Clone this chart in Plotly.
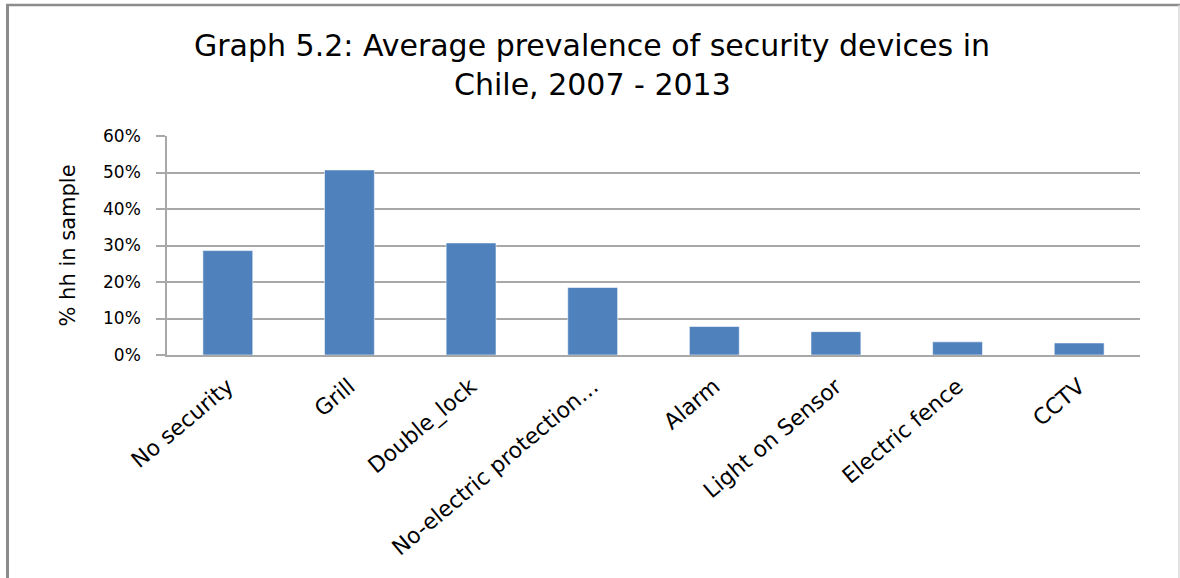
import plotly.graph_objects as go

# Average share of households with each security device, Chile 2007-2013
categories = [
    "No security", "Grill", "Double_lock", "No-electric protection…",
    "Alarm", "Light on Sensor", "Electric fence", "CCTV",
]
shares = [0.286, 0.507, 0.307, 0.185, 0.078, 0.064, 0.036, 0.033]
y_ticks = [0, 0.1, 0.2, 0.3, 0.4, 0.5, 0.6]
y_tick_labels = ["0%", "10%", "20%", "30%", "40%", "50%", "60%"]
title_lines = [
    "Graph 5.2: Average prevalence of security devices in",
    "Chile, 2007 - 2013",
]

W, H = 1180, 578
ML, MR, MT, MB = 167, 40, 136, 223
PW, PH = W - ML - MR, H - MT - MB


def px_x(px):
    return (px - ML) / PW


def px_y(py):
    return (H - MB - py) / PH


FONT = "DejaVu Sans, Verdana, sans-serif"
GRID = "#a8a8a8"

fig = go.Figure(
    go.Bar(
        x=categories,
        y=shares,
        width=0.41,
        marker=dict(color="#4f81bd", line=dict(color="rgba(255,255,255,0.55)", width=1)),
        hoverinfo="x+y",
    )
)

# two-line chart heading, centred over the whole frame
title_annotations = [
    dict(
        text=line,
        xref="paper", yref="paper",
        x=px_x(592), y=px_y(yc),
        xanchor="center", yanchor="middle",
        showarrow=False,
        font=dict(family=FONT, size=30, color="#000000"),
    )
    for line, yc in zip(title_lines, [46, 84])
]

fig.update_layout(
    width=W,
    height=H,
    margin=dict(l=ML, r=MR, t=MT, b=MB, pad=0, autoexpand=False),
    paper_bgcolor="white",
    plot_bgcolor="white",
    showlegend=False,
    bargap=0.59,
    font=dict(family=FONT, color="#000000"),
    annotations=title_annotations,
    xaxis=dict(
        automargin=False,
        showgrid=False,
        showline=True,
        linecolor=GRID,
        linewidth=2,
        ticks="",
        tickangle=-40,
        tickfont=dict(family=FONT, size=22, color="#000000"),
        ticklabelstandoff=8,
        fixedrange=True,
    ),
    yaxis=dict(
        automargin=False,
        range=[0, 0.6],
        tickvals=y_ticks,
        ticktext=y_tick_labels,
        showgrid=True,
        gridcolor=GRID,
        gridwidth=1.5,
        showline=True,
        linecolor=GRID,
        linewidth=1.5,
        ticks="outside",
        ticklen=9,
        tickcolor=GRID,
        tickwidth=1.5,
        tickfont=dict(family=FONT, size=17, color="#000000"),
        ticklabelstandoff=12,
        zeroline=False,
        title=dict(
            text="% hh in sample",
            font=dict(family=FONT, size=21, color="#000000"),
            standoff=22,
        ),
        fixedrange=True,
    ),
    shapes=[
        # chart frame: top, left and right edges
        dict(type="line", xref="paper", yref="paper",
             x0=px_x(6), x1=px_x(1180), y0=px_y(5), y1=px_y(5),
             line=dict(color="#8c8c8c", width=2.5)),
        dict(type="line", xref="paper", yref="paper",
             x0=px_x(7.5), x1=px_x(7.5), y0=px_y(4), y1=px_y(580),
             line=dict(color="#8c8c8c", width=3)),
        dict(type="line", xref="paper", yref="paper",
             x0=px_x(1179), x1=px_x(1179), y0=px_y(5), y1=px_y(580),
             line=dict(color="#d9d9d9", width=1.5)),
    ],
)

fig.write_html("out.html")
